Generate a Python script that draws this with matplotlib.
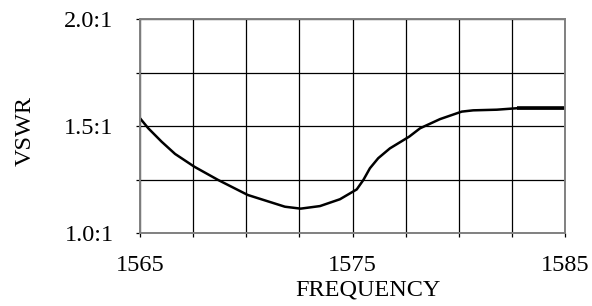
import matplotlib
matplotlib.use("Agg")
import matplotlib.pyplot as plt
from matplotlib.ticker import FixedLocator, FixedFormatter

# VSWR curve
freq = [1565.0, 1565.39, 1566.02, 1566.65, 1567.56, 1568.68, 1570.07, 1571.82,
        1572.56, 1573.47, 1574.41, 1575.20, 1575.51, 1575.82, 1576.21, 1576.76,
        1577.67, 1578.18, 1579.12, 1580.14, 1580.68, 1581.79, 1582.76, 1585.0]
vswr = [1.537, 1.490, 1.427, 1.370, 1.310, 1.248, 1.178, 1.123,
        1.114, 1.126, 1.158, 1.204, 1.248, 1.303, 1.350, 1.396,
        1.451, 1.490, 1.533, 1.568, 1.574, 1.577, 1.584, 1.584]

x_grid = [1565, 1567.5, 1570, 1572.5, 1575, 1577.5, 1580, 1582.5, 1585]
x_labels = ["1565", "", "", "", "1575", "", "", "", "1585"]
y_grid = [1.0, 1.25, 1.5, 1.75, 2.0]
y_labels = ["1.0:1", "", "1.5:1", "", "2.0:1"]

plt.rcParams["font.family"] = ["Liberation Serif", "DejaVu Serif"]
fs = 17.5

fig = plt.figure(figsize=(5.92, 3.06), dpi=100)
ax = fig.add_axes([140 / 592, (306 - 233) / 306, 425 / 592, 213.7 / 306])

ax.plot(freq, vswr, color="black", lw=1.8, solid_capstyle="butt",
        solid_joinstyle="round")
# the flat tail is drawn heavier in the original
ax.plot(freq[-2:], vswr[-2:], color="black", lw=2.6, solid_capstyle="butt")

ax.set_xlim(1565, 1585)
ax.set_ylim(1.0, 2.0)
ax.xaxis.set_major_locator(FixedLocator(x_grid))
ax.xaxis.set_major_formatter(FixedFormatter(x_labels))
ax.yaxis.set_major_locator(FixedLocator(y_grid))
ax.yaxis.set_major_formatter(FixedFormatter(y_labels))
ax.grid(True, color="black", lw=0.9)
ax.tick_params(axis="both", length=3, width=0.9, color="black",
               labelsize=fs, direction="out")
ax.tick_params(axis="x", pad=13)
ax.tick_params(axis="y", pad=16)

for s in ax.spines.values():
    s.set_color("#808080")
    s.set_linewidth(1.4)

ax.set_xlabel("FREQUENCY", fontsize=fs)
ax.xaxis.set_label_coords((368 - 140) / 425, -(290 - 233) / 213.7)
ax.xaxis.label.set_va("center")
ax.set_ylabel("VSWR", fontsize=fs)
ax.yaxis.set_label_coords(-(140 - 25) / 425, (233 - 131) / 213.7)
ax.yaxis.label.set_va("center")

fig.savefig("out.png", dpi=100)
